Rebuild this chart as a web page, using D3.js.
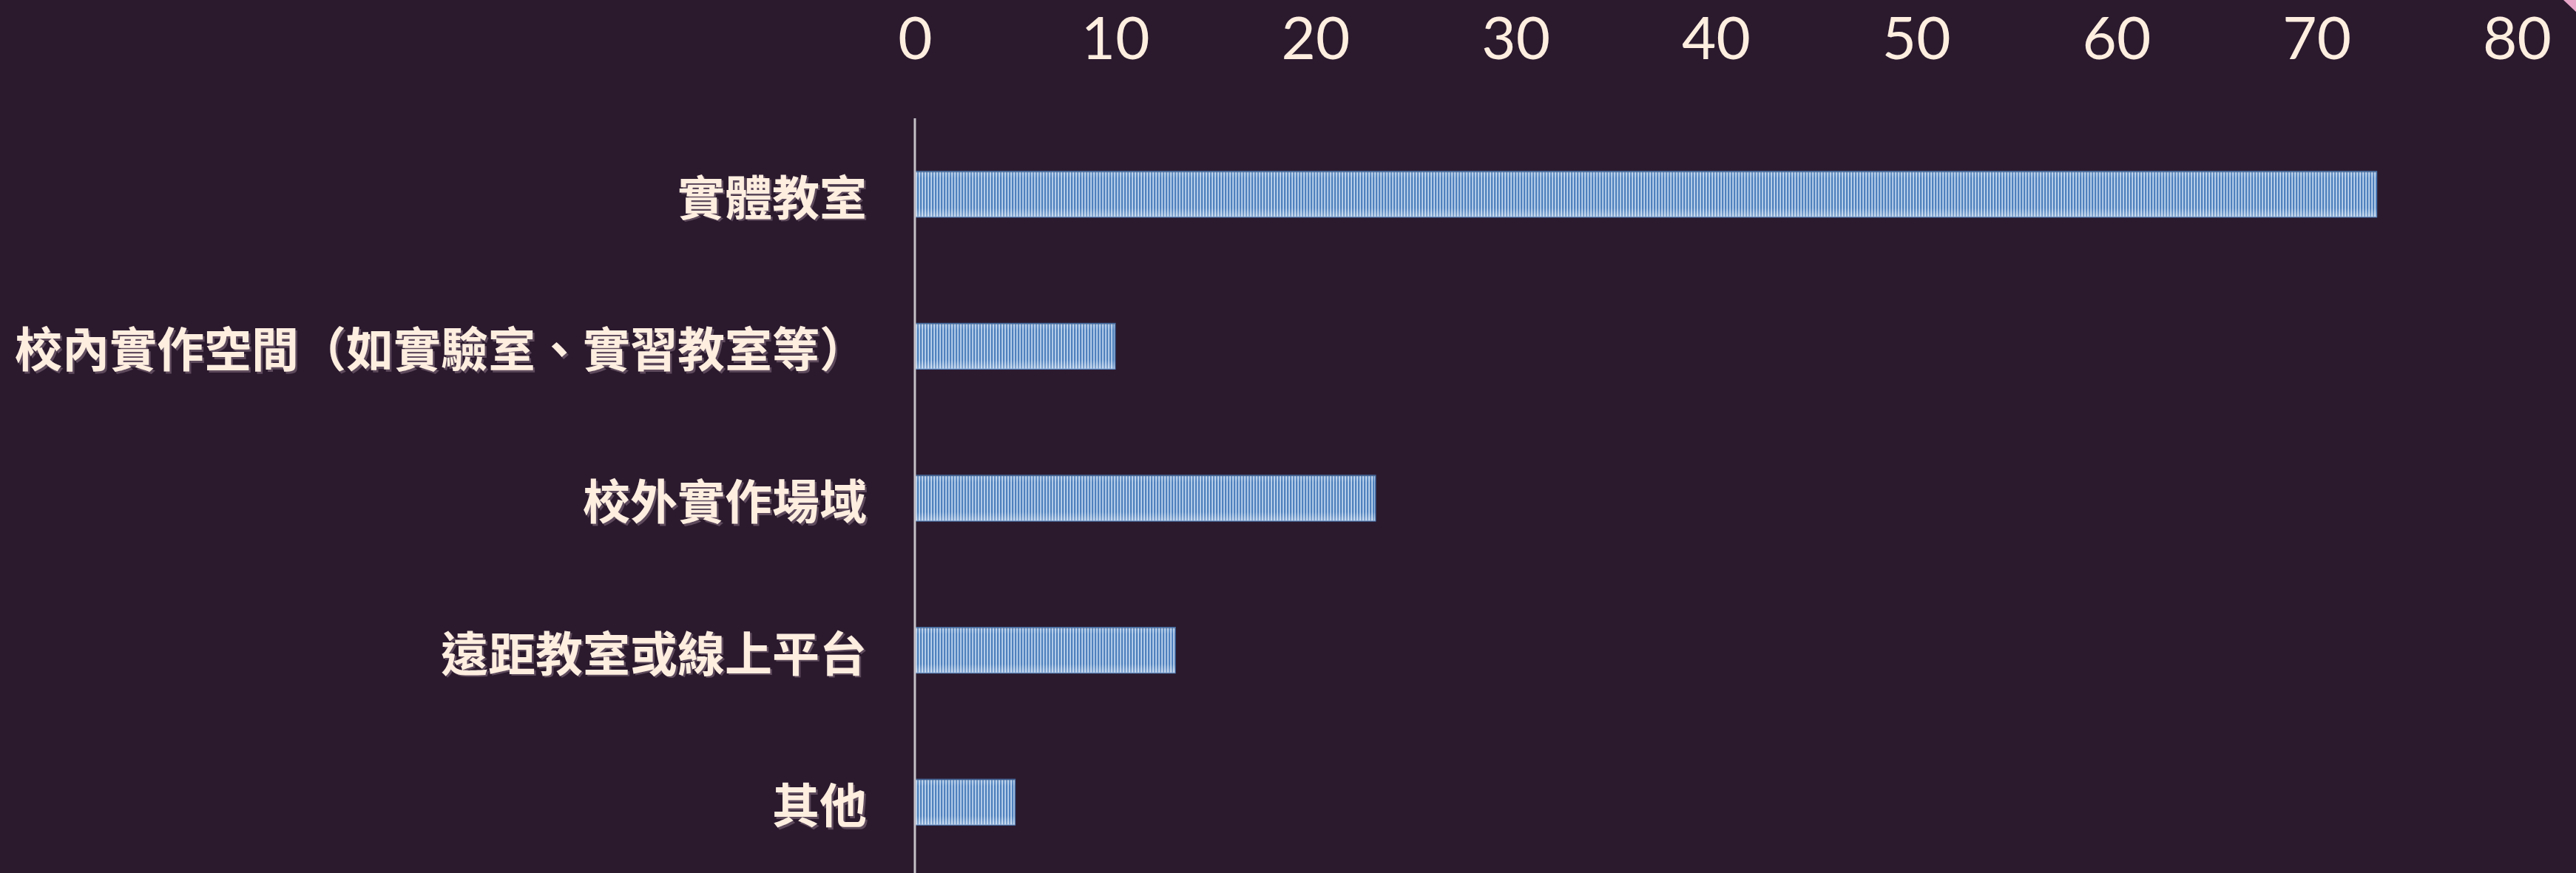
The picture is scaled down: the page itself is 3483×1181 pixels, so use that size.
<!DOCTYPE html>
<html>
<head>
<meta charset="utf-8">
<script src="https://cdn.jsdelivr.net/npm/d3@7"></script>
<style>
  html, body { margin: 0; padding: 0; background: #2b1a2e; }
  svg { display: block; }
</style>
</head>
<body>
<svg width="3483" height="1181"></svg>
<script>
const categories = ["實體教室", "校內實作空間（如實驗室、實習教室等）", "校外實作場域", "遠距教室或線上平台", "其他"];
const values = [73, 10, 23, 13, 5];
const xTicks = [0, 10, 20, 30, 40, 50, 60, 70, 80];

const svg = d3.select("svg");
const W = 3483, H = 1181;

svg.append("rect").attr("width", W).attr("height", H).attr("fill", "#2b1a2e");

// small pink corner decoration
svg.append("polygon")
  .attr("points", "3466,0 3483,0 3483,16")
  .attr("fill", "#e7a6c8");

const x = d3.scaleLinear().domain([0, 80]).range([1237, 3403]);
const y = d3.scaleBand().domain(categories).range([160, 1188]).paddingInner(0.7).paddingOuter(0.35);

const defs = svg.append("defs");
const pat = defs.append("pattern")
  .attr("id", "stripes")
  .attr("patternUnits", "userSpaceOnUse")
  .attr("width", 4).attr("height", 10);
pat.append("rect").attr("width", 4).attr("height", 10).attr("fill", "#c9dcf2");
pat.append("rect").attr("width", 2.4).attr("height", 10).attr("fill", "#4f81bd");

const grad = defs.append("linearGradient")
  .attr("id", "shine").attr("x1", 0).attr("y1", 0).attr("x2", 0).attr("y2", 1);
grad.append("stop").attr("offset", "0%").attr("stop-color", "#1d2a45").attr("stop-opacity", 0.5);
grad.append("stop").attr("offset", "4%").attr("stop-color", "#ffffff").attr("stop-opacity", 0.15);
grad.append("stop").attr("offset", "15%").attr("stop-color", "#ffffff").attr("stop-opacity", 0);
grad.append("stop").attr("offset", "80%").attr("stop-color", "#ffffff").attr("stop-opacity", 0);
grad.append("stop").attr("offset", "100%").attr("stop-color", "#ffffff").attr("stop-opacity", 0.35);

// Top axis tick labels
const axis = svg.append("g")
  .attr("transform", "translate(0,80)")
  .call(d3.axisTop(x).tickValues(xTicks).tickSize(0).tickPadding(0));
axis.select(".domain").remove();
axis.selectAll("text")
  .attr("fill", "#fdeee0")
  .style("font-family", "Lato, 'Noto Sans', sans-serif")
  .style("font-size", "80px");

// Bars
const bars = svg.append("g").selectAll("g.bar")
  .data(categories.map((c, i) => ({ c, v: values[i] })))
  .enter().append("g").attr("class", "bar");

bars.append("rect")
  .attr("x", x(0))
  .attr("y", d => y(d.c))
  .attr("width", d => x(d.v) - x(0))
  .attr("height", y.bandwidth())
  .attr("fill", "url(#stripes)")
  .attr("stroke", "#4a77b2")
  .attr("stroke-width", 1.5);

bars.append("rect")
  .attr("x", x(0))
  .attr("y", d => y(d.c))
  .attr("width", d => x(d.v) - x(0))
  .attr("height", y.bandwidth())
  .attr("fill", "url(#shine)");

// Vertical axis line
svg.append("line")
  .attr("x1", x(0)).attr("x2", x(0))
  .attr("y1", 160).attr("y2", H)
  .attr("stroke", "#c4c0c6")
  .attr("stroke-width", 3);

// Category labels (with slight shadow)
const labels = svg.append("g");
[["#5e4a5c", 2.5], ["#fdeee0", 0]].forEach(([col, off]) => {
  labels.selectAll(null)
    .data(categories)
    .enter().append("text")
    .attr("x", 1172 + off)
    .attr("y", d => y(d) + y.bandwidth() / 2 + off)
    .attr("text-anchor", "end")
    .attr("dominant-baseline", "central")
    .attr("fill", col)
    .style("font-family", "'Noto Sans CJK TC', sans-serif")
    .style("font-weight", "bold")
    .style("font-size", "64px")
    .text(d => d);
});
</script>
</body>
</html>
